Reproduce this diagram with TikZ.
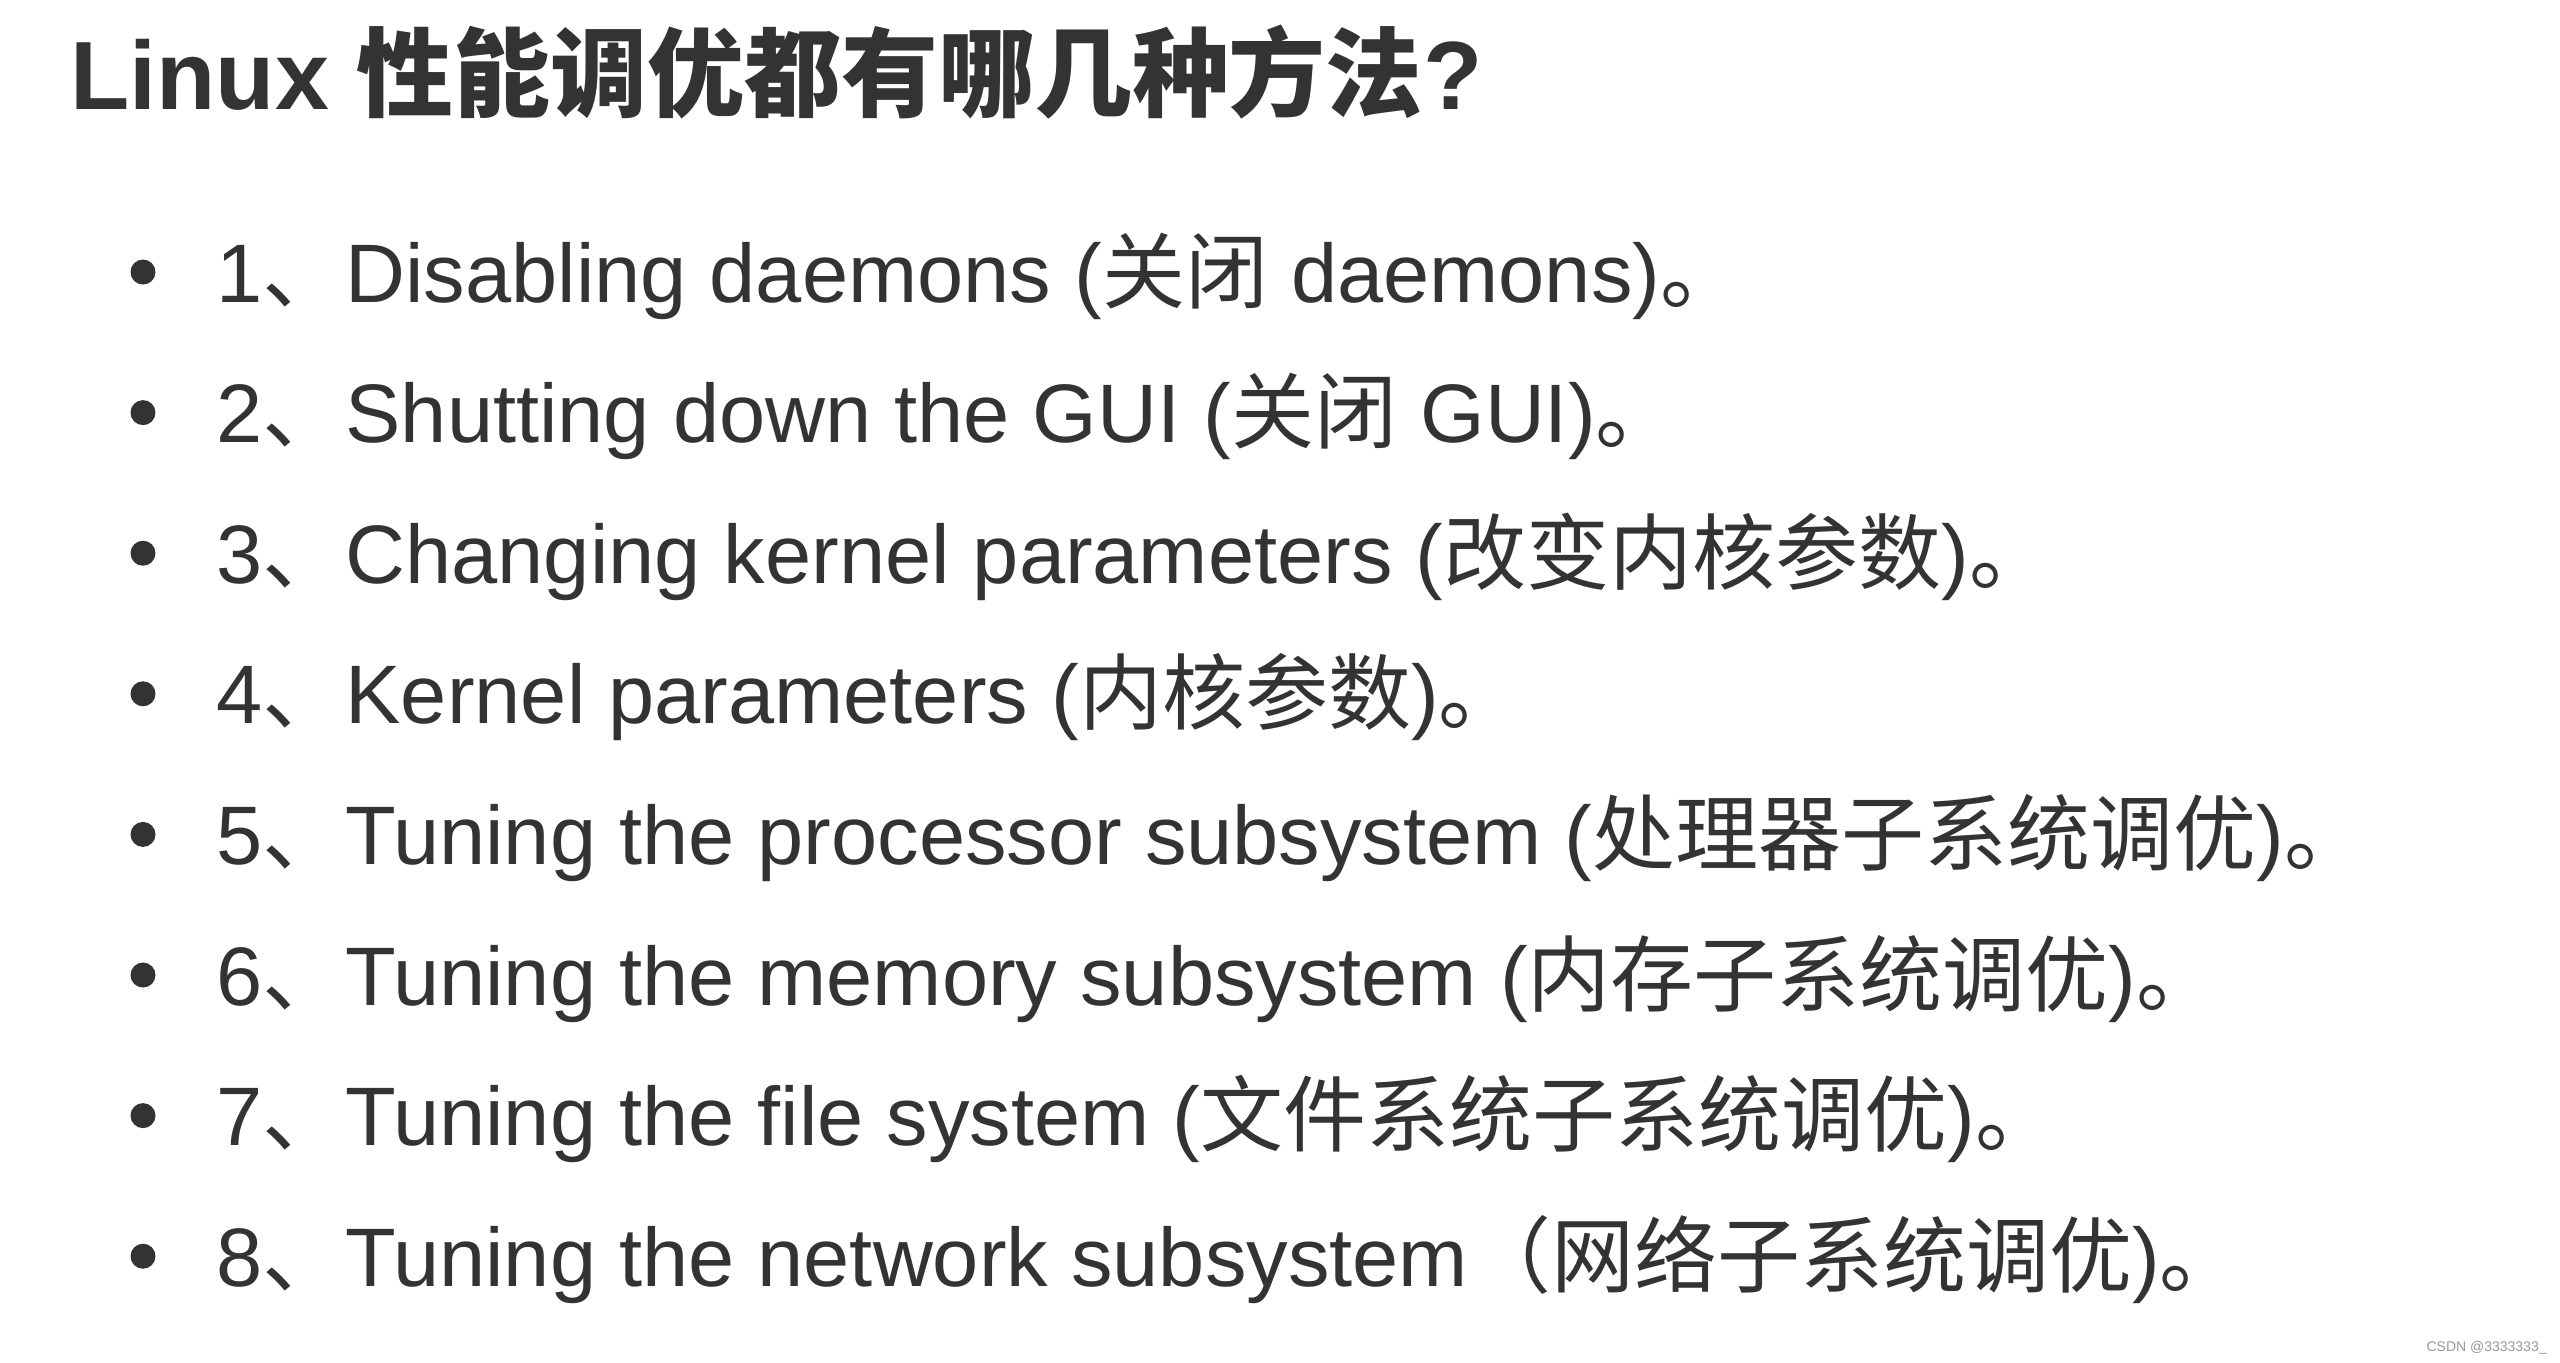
\documentclass[tikz,border=0pt]{standalone}
\usepackage{fontspec}
\setmainfont{Liberation Sans}
\newfontfamily\cjk{Noto Sans CJK SC}
\definecolor{txt}{HTML}{333333}
\definecolor{wmgray}{HTML}{999999}
\newcommand{\zh}[1]{{\cjk #1}}
\begin{document}
\begin{tikzpicture}[x=0.5pt,y=-0.5pt,
  titletext/.style={anchor=base west,inner sep=0pt,text=txt,font=\fontsize{48.5pt}{58pt}\selectfont\bfseries},
  itemtext/.style={anchor=base west,inner sep=0pt,text=txt,font=\fontsize{41.5pt}{50pt}\selectfont},
  bulletdot/.style={circle,fill=txt,inner sep=0pt,minimum size=12.5pt},
  marktext/.style={anchor=base east,inner sep=0pt,text=wmgray,font=\fontsize{7pt}{8pt}\selectfont}]
\useasboundingbox (0,0) rectangle (2560,1362);
\fill[white] (0,0) rectangle (2560,1362);
\node[titletext] (title) at (70,109) {Linux \zh{性能调优都有哪几种方法}?};
\foreach \i in {0,...,7}{
  \node[bulletdot] (b\i) at (143,{272+140.6*\i}) {};
}
\node[itemtext] (l1) at (216,302.0) {1\zh{、}Disabling daemons (\zh{关闭} daemons)\zh{。}};
\node[itemtext] (l2) at (216,442.6) {2\zh{、}Shutting down the GUI (\zh{关闭} GUI)\zh{。}};
\node[itemtext] (l3) at (216,583.2) {3\zh{、}Changing kernel parameters (\zh{改变内核参数})\zh{。}};
\node[itemtext] (l4) at (216,723.8) {4\zh{、}Kernel parameters (\zh{内核参数})\zh{。}};
\node[itemtext] (l5) at (216,864.4) {5\zh{、}Tuning the processor subsystem (\zh{处理器子系统调优})\zh{。}};
\node[itemtext] (l6) at (216,1005.0) {6\zh{、}Tuning the memory subsystem (\zh{内存子系统调优})\zh{。}};
\node[itemtext] (l7) at (216,1145.6) {7\zh{、}Tuning the file system (\zh{文件系统子系统调优})\zh{。}};
\node[itemtext] (l8) at (216,1286.2) {8\zh{、}Tuning the network subsystem\zh{（网络子系统调优})\zh{。}};
\node[marktext] (wm) at (2547,1351) {CSDN @3333333\_};
\end{tikzpicture}
\end{document}
